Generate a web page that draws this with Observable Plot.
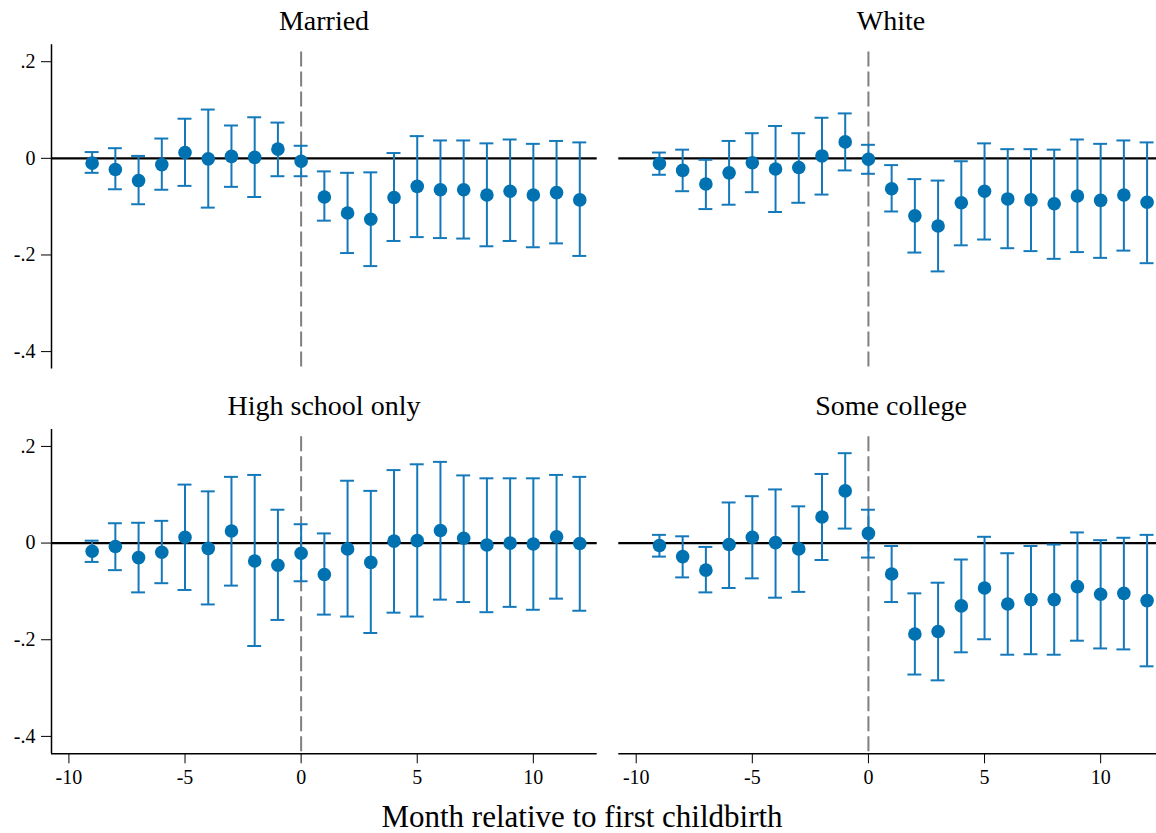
<!DOCTYPE html>
<html>
<head>
<meta charset="utf-8">
<script src="https://cdn.jsdelivr.net/npm/d3@7"></script>
<script src="https://cdn.jsdelivr.net/npm/@observablehq/plot@0.6"></script>
<style>
html, body { margin: 0; padding: 0; background: #fff; overflow: hidden; }
#chart { position: relative; width: 1156px; height: 833px; overflow: hidden; background: #fff;
  font-family: "Liberation Serif", "Times New Roman", serif; }
.panel { position: absolute; }
.panel text { font-family: "Liberation Serif", "Times New Roman", serif !important; font-size: 20px !important; fill: #000; }
#overlay { position: absolute; left: 0; top: 0; pointer-events: none; }
</style>
</head>
<body>
<div id="chart"></div>
<script>
// ---- Data ----
const months = [-9, -8, -7, -6, -5, -4, -3, -2, -1, 0, 1, 2, 3, 4, 5, 6, 7, 8, 9, 10, 11, 12];

const marriedEst = [-0.010, -0.023, -0.046, -0.013, 0.012, -0.001, 0.004, 0.002, 0.019, -0.006, -0.080, -0.113, -0.126, -0.081, -0.058, -0.065, -0.065, -0.076, -0.068, -0.076, -0.071, -0.086];
const marriedLo  = [-0.030, -0.064, -0.095, -0.065, -0.057, -0.102, -0.059, -0.080, -0.037, -0.037, -0.129, -0.196, -0.223, -0.171, -0.163, -0.165, -0.166, -0.182, -0.171, -0.184, -0.176, -0.202];
const marriedHi  = [0.013, 0.021, 0.005, 0.041, 0.082, 0.101, 0.068, 0.085, 0.074, 0.026, -0.027, -0.030, -0.029, 0.011, 0.046, 0.037, 0.037, 0.031, 0.039, 0.030, 0.036, 0.033];

const whiteEst = [-0.011, -0.025, -0.053, -0.030, -0.009, -0.022, -0.019, 0.005, 0.034, -0.002, -0.063, -0.119, -0.140, -0.092, -0.068, -0.084, -0.086, -0.094, -0.078, -0.087, -0.076, -0.091];
const whiteLo  = [-0.034, -0.068, -0.105, -0.096, -0.070, -0.111, -0.092, -0.075, -0.025, -0.032, -0.110, -0.195, -0.234, -0.180, -0.168, -0.186, -0.192, -0.208, -0.194, -0.206, -0.191, -0.217];
const whiteHi  = [0.012, 0.018, -0.003, 0.036, 0.052, 0.067, 0.052, 0.084, 0.093, 0.028, -0.014, -0.043, -0.046, -0.006, 0.031, 0.019, 0.019, 0.018, 0.039, 0.030, 0.037, 0.033];

const hsEst = [-0.017, -0.007, -0.030, -0.019, 0.012, -0.011, 0.025, -0.037, -0.046, -0.021, -0.065, -0.012, -0.040, 0.004, 0.005, 0.026, 0.010, -0.004, 0.000, -0.002, 0.013, -0.001];
const hsLo  = [-0.039, -0.056, -0.102, -0.083, -0.097, -0.127, -0.088, -0.213, -0.159, -0.079, -0.148, -0.152, -0.186, -0.144, -0.152, -0.117, -0.122, -0.143, -0.132, -0.138, -0.115, -0.140];
const hsHi  = [0.005, 0.041, 0.042, 0.046, 0.121, 0.107, 0.137, 0.141, 0.069, 0.039, 0.020, 0.129, 0.108, 0.151, 0.163, 0.168, 0.140, 0.134, 0.134, 0.134, 0.141, 0.137];

const scEst = [-0.005, -0.028, -0.056, -0.003, 0.012, 0.001, -0.012, 0.054, 0.108, 0.020, -0.064, -0.188, -0.183, -0.130, -0.093, -0.126, -0.117, -0.117, -0.090, -0.106, -0.104, -0.119];
const scLo  = [-0.028, -0.071, -0.102, -0.093, -0.073, -0.113, -0.101, -0.035, 0.030, -0.030, -0.122, -0.272, -0.284, -0.226, -0.199, -0.231, -0.230, -0.231, -0.202, -0.218, -0.220, -0.255];
const scHi  = [0.017, 0.014, -0.008, 0.084, 0.097, 0.111, 0.076, 0.143, 0.186, 0.069, -0.006, -0.104, -0.082, -0.034, 0.013, -0.021, -0.006, -0.003, 0.022, 0.006, 0.011, 0.017];

const panelTitles = ["Married", "White", "High school only", "Some college"];
const xTickValues = [-10, -5, 0, 5, 10];
const xTickLabels = ["-10", "-5", "0", "5", "10"];
const yTickValues = [0.2, 0, -0.2, -0.4];
const yTickLabels = [".2", "0", "-.2", "-.4"];
const xAxisTitle = "Month relative to first childbirth";

// ---- Styling / layout ----
const xDomain = [-10.75, 12.75];
const yDomain = [-0.436, 0.235];
const dashTop = 0.22;
const capHalf = 0.3;
const dotColor = "#0072B2";
const barColor = "#1479BB";
const font = "Liberation Serif, Times New Roman, serif";

function rows(est, lo, hi) {
  return months.map((m, i) => ({month: m, est: est[i], lo: lo[i], hi: hi[i]}));
}

const panels = [
  {title: panelTitles[0], data: rows(marriedEst, marriedLo, marriedHi), left: 0,   top: 0,   width: 600, height: 390, ml: 51,   mr: 3.3, mt: 44.3, mb: 21.5, showY: true,  showX: false, cx: 324},
  {title: panelTitles[1], data: rows(whiteEst, whiteLo, whiteHi),       left: 600, top: 0,   width: 564, height: 390, ml: 18.3, mr: 0,   mt: 44.3, mb: 21.5, showY: false, showX: false, cx: 891},
  {title: panelTitles[2], data: rows(hsEst, hsLo, hsHi),                left: 0,   top: 390, width: 600, height: 443, ml: 51,   mr: 3.3, mt: 39,   mb: 79.7, showY: true,  showX: true,  cx: 324},
  {title: panelTitles[3], data: rows(scEst, scLo, scHi),                left: 600, top: 390, width: 564, height: 443, ml: 18.3, mr: 0,   mt: 39,   mb: 79.7, showY: false, showX: true,  cx: 891}
];

const chart = document.getElementById("chart");

for (const p of panels) {
  const marks = [];
  if (p.showY) marks.push(Plot.ruleX([xDomain[0]], {stroke: "black", strokeWidth: 1.5}));
  if (p.showX) marks.push(Plot.ruleY([yDomain[0]], {stroke: "black", strokeWidth: 1.5}));
  marks.push(Plot.ruleY([0], {stroke: "black", strokeWidth: 2.2}));
  marks.push(Plot.ruleX([0], {y1: dashTop, y2: yDomain[0], stroke: "#7f7f7f", strokeWidth: 2, strokeDasharray: "15,5"}));
  marks.push(Plot.ruleX(p.data, {x: "month", y1: "lo", y2: "hi", stroke: barColor, strokeWidth: 2}));
  marks.push(Plot.ruleY(p.data, {y: "hi", x1: d => d.month - capHalf, x2: d => d.month + capHalf, stroke: barColor, strokeWidth: 2}));
  marks.push(Plot.ruleY(p.data, {y: "lo", x1: d => d.month - capHalf, x2: d => d.month + capHalf, stroke: barColor, strokeWidth: 2}));
  marks.push(Plot.dot(p.data, {x: "month", y: "est", r: 6.8, fill: dotColor, stroke: "none"}));

  const svg = Plot.plot({
    width: p.width,
    height: p.height,
    marginLeft: p.ml,
    marginRight: p.mr,
    marginTop: p.mt,
    marginBottom: p.mb,
    style: {background: "transparent", fontFamily: font, fontSize: "20px", color: "black", overflow: "visible"},
    x: {
      domain: xDomain,
      axis: p.showX ? "bottom" : null,
      ticks: xTickValues,
      tickFormat: d => xTickLabels[xTickValues.indexOf(d)],
      tickSize: 10,
      tickPadding: 6,
      label: null
    },
    y: {
      domain: yDomain,
      axis: p.showY ? "left" : null,
      ticks: yTickValues,
      tickFormat: d => yTickLabels[yTickValues.indexOf(d)],
      tickSize: 10,
      tickPadding: 6,
      label: null
    },
    marks
  });
  svg.classList.add("panel");
  svg.style.left = p.left + "px";
  svg.style.top = p.top + "px";
  svg.style.maxWidth = "none";
  chart.appendChild(svg);
}

// Titles and shared x-axis title
const overlay = d3.select(chart).append("svg")
  .attr("id", "overlay")
  .attr("width", 1156)
  .attr("height", 833);

overlay.selectAll("text.ptitle")
  .data(panels)
  .join("text")
  .attr("class", "ptitle")
  .attr("x", d => d.cx)
  .attr("y", d => d.top === 0 ? 30 : 415)
  .attr("text-anchor", "middle")
  .attr("font-family", font)
  .attr("font-size", 28)
  .attr("fill", "black")
  .text(d => d.title);

overlay.append("text")
  .attr("x", 582)
  .attr("y", 827)
  .attr("text-anchor", "middle")
  .attr("font-family", font)
  .attr("font-size", 31)
  .attr("fill", "black")
  .text(xAxisTitle);
</script>
</body>
</html>
